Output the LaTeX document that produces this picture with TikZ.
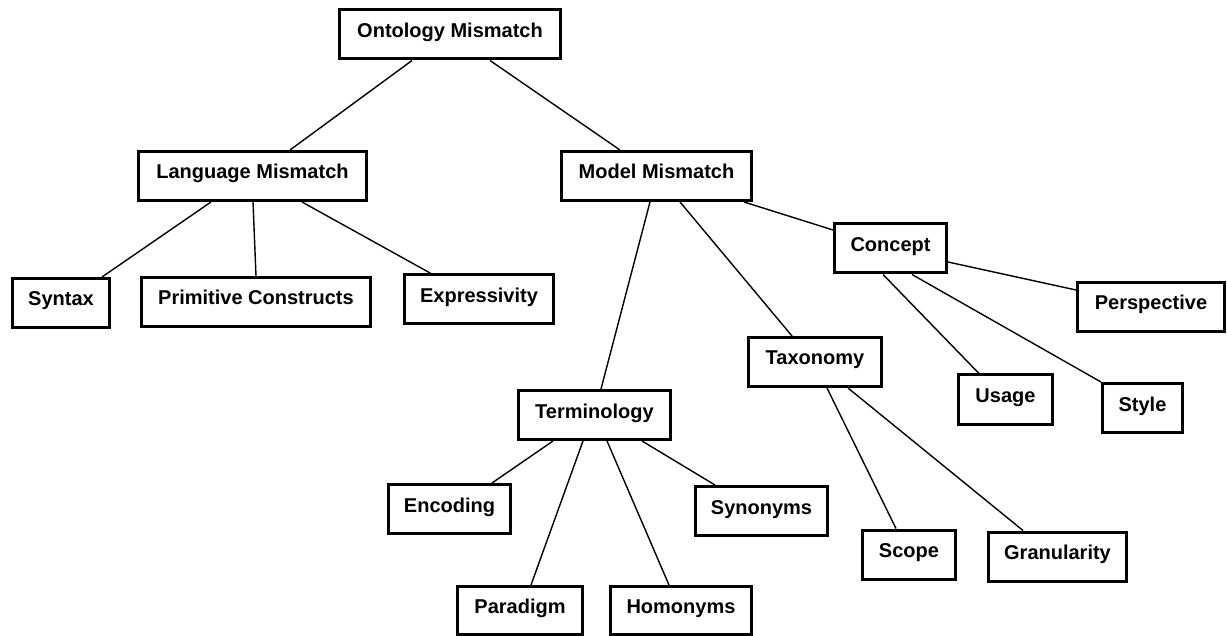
\documentclass[tikz,border=0pt]{standalone}
\usepackage{fontspec}
\setmainfont{Liberation Sans}
\begin{document}
\begin{tikzpicture}[x=1pt,y=-1pt,
  box/.style={draw=black,line width=3pt,inner sep=0pt,minimum height=49pt,
    text height=14pt,text depth=8pt,font=\fontsize{20}{24}\selectfont\bfseries},
  link/.style={draw=black,line width=1.4pt}]
\useasboundingbox[fill=white] (0,0) rectangle (1227,636);
\node[box,minimum width=221pt] (om) at (450,34.5) {Ontology Mismatch};
\node[box,minimum width=228pt] (lm) at (252.5,176) {Language Mismatch};
\node[box,minimum width=190pt] (mm) at (656.5,176) {Model Mismatch};
\node[box,minimum width=97pt] (syn) at (61,303) {Syntax};
\node[box,minimum width=229pt] (pc) at (256,302) {Primitive Constructs};
\node[box,minimum width=149pt] (ex) at (479,299.5) {Expressivity};
\node[box,minimum width=112pt] (co) at (890.5,248.5) {Concept};
\node[box,minimum width=147pt] (pe) at (1151,307) {Perspective};
\node[box,minimum width=133pt] (ta) at (815,362) {Taxonomy};
\node[box,minimum width=94pt] (us) at (1005.5,399.5) {Usage};
\node[box,minimum width=80pt] (st) at (1142.5,408) {Style};
\node[box,minimum width=152pt] (te) at (594.5,415) {Terminology};
\node[box,minimum width=122pt] (en) at (449.5,509) {Encoding};
\node[box,minimum width=132pt] (sy) at (761.5,511) {Synonyms};
\node[box,minimum width=93pt] (sc) at (909,554.5) {Scope};
\node[box,minimum width=138pt] (gr) at (1057.5,556.5) {Granularity};
\node[box,minimum width=125pt,minimum height=48pt] (pa) at (520,610.5) {Paradigm};
\node[box,minimum width=141pt,minimum height=48pt] (ho) at (681,610.5) {Homonyms};
\draw[link] ([xshift=-38pt]om.south) -- ([xshift=37.5pt]lm.north);
\draw[link] ([xshift=40pt]om.south) -- ([xshift=-36.5pt]mm.north);
\draw[link] ([xshift=-41.5pt]lm.south) -- ([xshift=41pt]syn.north);
\draw[link] ([xshift=0.5pt]lm.south) -- (pc.north);
\draw[link] ([xshift=49.5pt]lm.south) -- ([xshift=-48pt]ex.north);
\draw[link] ([xshift=87.5pt]mm.south) -- ([yshift=18.5pt]co.west);
\draw[link] ([xshift=-6.5pt]mm.south) -- ([xshift=6.5pt]te.north);
\draw[link] ([xshift=23.5pt]mm.south) -- ([xshift=-23pt]ta.north);
\draw[link] ([yshift=-13.5pt]co.east) -- ([yshift=17pt]pe.west);
\draw[link] ([xshift=-7.5pt]co.south) -- ([xshift=-26.5pt]us.north);
\draw[link] ([xshift=21.5pt]co.south) -- (st.north west);
\draw[link] ([xshift=12pt]ta.south) -- ([xshift=-13pt]sc.north);
\draw[link] ([xshift=33pt]ta.south) -- ([xshift=-34.5pt]gr.north);
\draw[link] ([xshift=-41.5pt]te.south) -- ([xshift=42.5pt]en.north);
\draw[link] ([xshift=-11.5pt]te.south) -- ([xshift=11pt]pa.north);
\draw[link] ([xshift=12.5pt]te.south) -- ([xshift=-12pt]ho.north);
\draw[link] ([xshift=47.5pt]te.south) -- ([xshift=-46.5pt]sy.north);
\end{tikzpicture}
\end{document}
